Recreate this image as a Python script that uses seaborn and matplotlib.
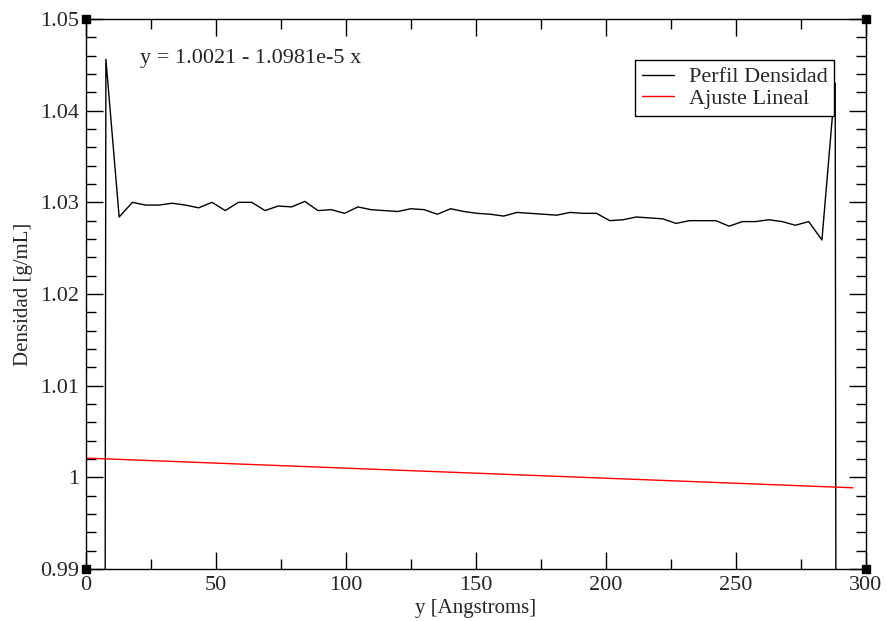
import matplotlib
matplotlib.use("Agg")
import matplotlib.pyplot as plt
import numpy as np
import pandas as pd
import seaborn as sns
from matplotlib.ticker import MultipleLocator

# ---- data ----
bin_start = 2.55
bin_width = 5.1
density = [
    0.0, 1.0456, 1.0284, 1.0300, 1.0297, 1.0297, 1.0299, 1.0297, 1.0294, 1.0300,
    1.0291, 1.0300, 1.0300, 1.0291, 1.0296, 1.0295, 1.0301, 1.0291, 1.0292, 1.0288,
    1.0295, 1.0292, 1.0291, 1.0290, 1.0293, 1.0292, 1.0287, 1.0293, 1.0290, 1.0288,
    1.0287, 1.0285, 1.0289, 1.0288, 1.0287, 1.0286, 1.0289, 1.0288, 1.0288, 1.0280,
    1.0281, 1.0284, 1.0283, 1.0282, 1.0277, 1.0280, 1.0280, 1.0280, 1.0274, 1.0279,
    1.0279, 1.0281, 1.0279, 1.0275, 1.0279, 1.0259, 1.0430, 0.0,
]
positions = [bin_start + bin_width * i for i in range(len(density))]

fit_x = [0.0, 295.0]
fit_y = [1.0021, 0.99886]
fit_label = "y = 1.0021 - 1.0981e-5 x"

x_ticks = [0, 50, 100, 150, 200, 250, 300]
x_ticklabels = ["0", "50", "100", "150", "200", "250", "300"]
y_ticks = [0.99, 1.00, 1.01, 1.02, 1.03, 1.04, 1.05]
y_ticklabels = ["0.99", "1", "1.01", "1.02", "1.03", "1.04", "1.05"]

profile = pd.DataFrame({"y": positions, "dens": density, "serie": "Perfil Densidad"})
fit = pd.DataFrame({"y": fit_x, "dens": fit_y, "serie": "Ajuste Lineal"})

# ---- style ----
sns.set_theme(style="ticks")
plt.rcParams["font.family"] = ["Liberation Serif", "DejaVu Serif"]
plt.rcParams["axes.linewidth"] = 1.0

fig = plt.figure(figsize=(8.86, 6.21), dpi=100)
ax = fig.add_axes([86 / 886, 1 - 569 / 621, 780 / 886, 550 / 621])

sns.lineplot(data=profile, x="y", y="dens", ax=ax, color="black", lw=1.0,
             estimator=None, sort=False, label="Perfil Densidad")
sns.lineplot(data=fit, x="y", y="dens", ax=ax, color="#ff0000", lw=1.0,
             estimator=None, sort=False, label="Ajuste Lineal")

ax.set_xlim(0, 300)
ax.set_ylim(0.99, 1.05)
ax.set_xticks(x_ticks)
ax.set_xticklabels(x_ticklabels)
ax.set_yticks(y_ticks)
ax.set_yticklabels(y_ticklabels)
ax.xaxis.set_minor_locator(MultipleLocator(25))
ax.yaxis.set_minor_locator(MultipleLocator(0.002))

ax.tick_params(which="both", direction="in", top=True, right=True,
               color="black", labelsize=16)
ax.tick_params(which="major", length=12, width=1.0)
ax.tick_params(which="minor", length=7, width=1.0)
ax.tick_params(axis="x", pad=5)
ax.tick_params(axis="y", pad=5)

for s in ax.spines.values():
    s.set_color("black")
    s.set_linewidth(1.0)

ax.set_xlabel("y [Angstroms]", fontsize=15, labelpad=3)
ax.set_ylabel("Densidad [g/mL]", fontsize=15, labelpad=5)

ax.text(0.069, 0.929, fit_label, transform=ax.transAxes, fontsize=16,
        ha="left", va="center")

leg = ax.legend(loc="upper right", bbox_to_anchor=(0.959, 0.925), fontsize=16,
                frameon=True, fancybox=False, framealpha=1, edgecolor="black",
                handlelength=1.45, handletextpad=0.65, borderpad=0.3,
                labelspacing=0.05, borderaxespad=0)
leg.get_frame().set_linewidth(1.0)
for h in leg.get_lines():
    h.set_linewidth(1.0)

# corner handles (Grace style)
ax.plot([0, 1, 0, 1], [0, 0, 1, 1], transform=ax.transAxes, ls="none",
        marker="s", ms=6, color="black", clip_on=False, zorder=10)

fig.savefig("out.png", dpi=100)
